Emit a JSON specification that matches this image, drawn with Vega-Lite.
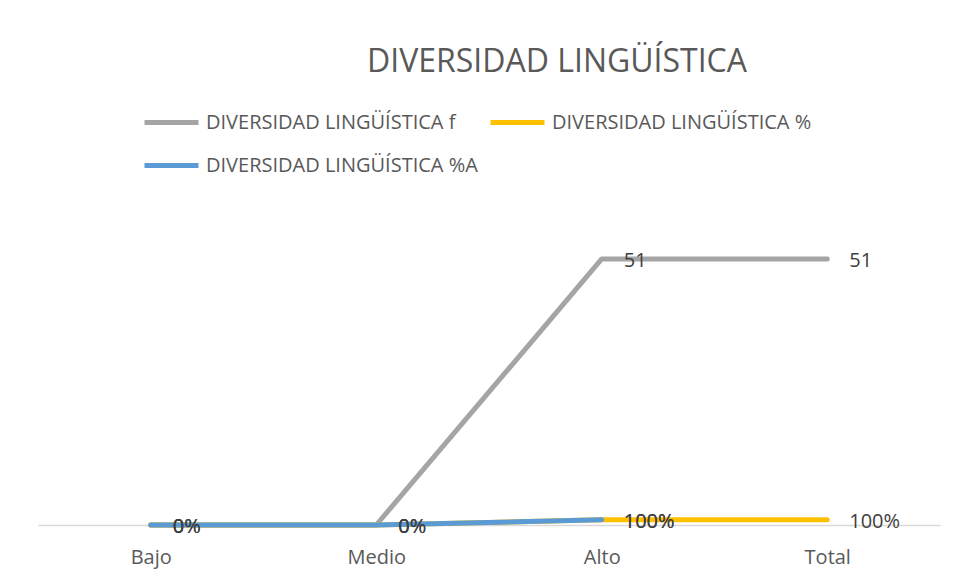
{
  "$schema": "https://vega.github.io/schema/vega-lite/v6.json",
  "width": 902,
  "height": 313,
  "autosize": {"type": "none"},
  "padding": {"left": 38, "top": 212, "right": 15, "bottom": 53},
  "background": "#ffffff",
  "config": {
    "view": {"stroke": null},
    "font": "Open Sans"
  },
  "title": {
    "text": "DIVERSIDAD LINGÜÍSTICA",
    "anchor": "middle",
    "frame": "group",
    "dx": 68,
    "offset": -11,
    "baseline": "alphabetic",
    "fontSize": 32,
    "fontWeight": "normal",
    "font": "Open Sans",
    "color": "#595959"
  },
  "data": {
    "values": [
      {"serie": "DIVERSIDAD LINGÜÍSTICA f", "categoria": "Bajo", "valor": 0, "etiqueta": "0"},
      {"serie": "DIVERSIDAD LINGÜÍSTICA f", "categoria": "Medio", "valor": 0, "etiqueta": "0"},
      {"serie": "DIVERSIDAD LINGÜÍSTICA f", "categoria": "Alto", "valor": 51, "etiqueta": "51"},
      {"serie": "DIVERSIDAD LINGÜÍSTICA f", "categoria": "Total", "valor": 51, "etiqueta": "51"},
      {"serie": "DIVERSIDAD LINGÜÍSTICA %", "categoria": "Bajo", "valor": 0, "etiqueta": "0%"},
      {"serie": "DIVERSIDAD LINGÜÍSTICA %", "categoria": "Medio", "valor": 0, "etiqueta": "0%"},
      {"serie": "DIVERSIDAD LINGÜÍSTICA %", "categoria": "Alto", "valor": 1, "etiqueta": "100%"},
      {"serie": "DIVERSIDAD LINGÜÍSTICA %", "categoria": "Total", "valor": 1, "etiqueta": "100%"},
      {"serie": "DIVERSIDAD LINGÜÍSTICA %A", "categoria": "Bajo", "valor": 0, "etiqueta": "0%"},
      {"serie": "DIVERSIDAD LINGÜÍSTICA %A", "categoria": "Medio", "valor": 0, "etiqueta": "0%"},
      {"serie": "DIVERSIDAD LINGÜÍSTICA %A", "categoria": "Alto", "valor": 1, "etiqueta": "100%"}
    ]
  },
  "encoding": {
    "x": {
      "field": "categoria",
      "type": "nominal",
      "sort": ["Bajo", "Medio", "Alto", "Total"],
      "scale": {"type": "point", "padding": 0.5},
      "axis": {
        "title": null,
        "domainColor": "#D9D9D9",
        "domainWidth": 1.5,
        "ticks": false,
        "tickSize": 0,
        "labelAngle": 0,
        "labelFont": "Open Sans",
        "labelFontSize": 20,
        "labelColor": "#595959",
        "labelBaseline": "alphabetic",
        "labelPadding": 38,
        "grid": false
      }
    },
    "y": {
      "field": "valor",
      "type": "quantitative",
      "scale": {"domain": [0, 60], "nice": false},
      "axis": null
    }
  },
  "layer": [
    {
      "mark": {"type": "line", "strokeWidth": 5, "strokeCap": "round", "strokeJoin": "round"},
      "encoding": {
        "color": {
          "field": "serie",
          "type": "nominal",
          "sort": ["DIVERSIDAD LINGÜÍSTICA f", "DIVERSIDAD LINGÜÍSTICA %", "DIVERSIDAD LINGÜÍSTICA %A"],
          "scale": {
            "domain": ["DIVERSIDAD LINGÜÍSTICA f", "DIVERSIDAD LINGÜÍSTICA %", "DIVERSIDAD LINGÜÍSTICA %A"],
            "range": ["#A5A5A5", "#FFC000", "#5B9BD5"]
          },
          "legend": {
            "title": null,
            "orient": "none",
            "legendX": 104,
            "legendY": -119,
            "direction": "horizontal",
            "columns": 2,
            "gridAlign": "none",
            "columnPadding": 2,
            "rowPadding": 3,
            "padding": 0,
            "symbolType": "stroke",
            "symbolSize": 2916,
            "symbolStrokeWidth": 5,
            "labelFont": "Open Sans",
            "labelFontSize": 20,
            "labelColor": "#595959",
            "labelOffset": 5,
            "labelLimit": 400
          }
        }
      }
    },
    {
      "mark": {"type": "text", "align": "left", "baseline": "middle", "dx": 22, "dy": 2, "fontSize": 20, "font": "Open Sans", "color": "#404040"},
      "encoding": {
        "text": {"field": "etiqueta", "type": "nominal"}
      }
    }
  ]
}
